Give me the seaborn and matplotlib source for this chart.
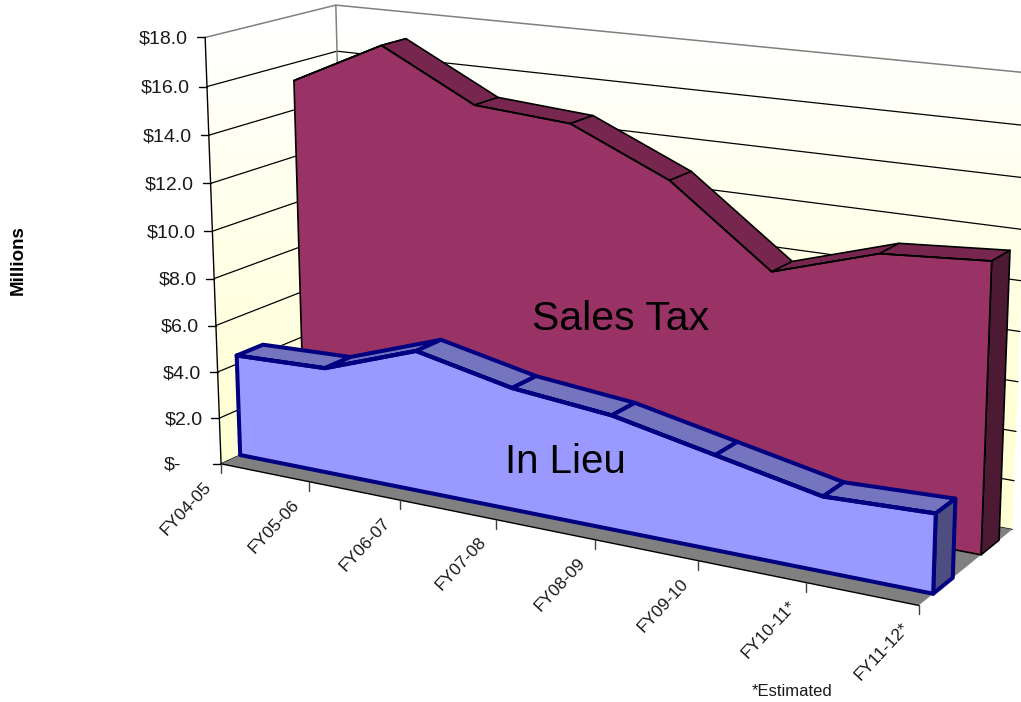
import matplotlib
matplotlib.use("Agg")
import matplotlib.pyplot as plt
import numpy as np
import pandas as pd
import seaborn as sns
from matplotlib.colors import LinearSegmentedColormap
from matplotlib.patches import Polygon

categories = ["FY04-05", "FY05-06", "FY06-07", "FY07-08", "FY08-09", "FY09-10", "FY10-11*", "FY11-12*"]
sales_tax = [15.25, 17.15, 15.1, 14.8, 13.0, 9.9, 11.2, 11.5]
in_lieu = [4.37, 4.5, 5.9, 5.05, 4.65, 3.8, 2.95, 3.1]
tick_values = [0, 2, 4, 6, 8, 10, 12, 14, 16, 18]
tick_labels = ["$-", "$2.0", "$4.0", "$6.0", "$8.0", "$10.0", "$12.0", "$14.0", "$16.0", "$18.0"]

YMAX = 18.0
# box corners (category fraction, depth, value fraction) and where they land on screen
BOX = [
    ((0, 0, 0), (221, 464)),
    ((1, 0, 0), (919, 605)),
    ((1, 1, 0), (1012, 530)),
    ((0, 1, 0), (346, 406)),
    ((0, 0, 1), (205, 37.7)),
    ((0, 1, 1), (336, 5)),
    ((1, 1, 1), (1030, 73)),
]
IN_LIEU_DEPTH = (0.145, 0.347)
SALES_DEPTH = (0.65, 0.85)


def fit_camera():
    rows = []
    for (x, z, v), (sx, sy) in BOX:
        sx, sy = sx / 1000, sy / 1000
        rows.append([x, z, v, 1, 0, 0, 0, 0, -sx * x, -sx * z, -sx * v, -sx])
        rows.append([0, 0, 0, 0, x, z, v, 1, -sy * x, -sy * z, -sy * v, -sy])
    return np.linalg.svd(np.array(rows))[2][-1].reshape(3, 4)


CAM = fit_camera()


def project(cat, depth, value):
    # cat is category index, value in dollars
    p = CAM @ np.array([cat / (len(categories) - 1), depth, value / YMAX, 1.0])
    return p[0] / p[2] * 1000, p[1] / p[2] * 1000


def wall(ax, corners):
    ramp = LinearSegmentedColormap.from_list(
        "wall", [(0, "#ffffff"), (0.05, "#ffffff"), (0.75, "#ffffd6"), (1, "#ffffd6")]
    )
    grad = np.linspace(0, 1, 256).reshape(-1, 1)
    img = ax.imshow(grad, cmap=ramp, extent=(150, 1100, 560, 0), aspect="auto", zorder=1)
    patch = Polygon(corners, closed=True, transform=ax.transData, fc="none", ec="none", zorder=0.5)
    ax.add_patch(patch)
    img.set_clip_path(patch)


def draw_series(ax, values, depth, front, top, side, edge, lw, z):
    near, far = depth
    last = len(values) - 1
    for i in range(last):
        quad = [project(i, near, values[i]), project(i + 1, near, values[i + 1]),
                project(i + 1, far, values[i + 1]), project(i, far, values[i])]
        ax.add_patch(Polygon(quad, closed=True, fc=top, ec=edge, lw=lw, joinstyle="round", zorder=z))
    quad = [project(last, near, values[last]), project(last, far, values[last]),
            project(last, far, 0), project(last, near, 0)]
    ax.add_patch(Polygon(quad, closed=True, fc=side, ec=edge, lw=lw, joinstyle="round", zorder=z))
    outline = [project(i, near, values[i]) for i in range(last + 1)]
    base = [project(last, near, 0), project(0, near, 0)]
    ax.add_patch(Polygon(outline + base, closed=True, fc=front, ec=edge, lw=lw, joinstyle="round", zorder=z + 0.1))
    df = pd.DataFrame(outline, columns=["px", "py"])
    sns.lineplot(data=df, x="px", y="py", sort=False, estimator=None, color=edge, linewidth=lw, ax=ax, zorder=z + 0.2)


def main():
    sns.set_theme(style="white")
    plt.rcParams["font.family"] = ["Liberation Sans", "DejaVu Sans"]
    fig = plt.figure(figsize=(10.21, 7.02), dpi=100)
    ax = fig.add_axes([0, 0, 1, 1])

    n = len(categories) - 1
    wall(ax, [project(0, 0, 0), project(0, 1, 0), project(0, 1, YMAX), project(0, 0, YMAX)])
    wall(ax, [project(0, 1, 0), project(n, 1, 0), project(n, 1, YMAX), project(0, 1, YMAX)])

    # gridlines on both walls
    for v in tick_values:
        pts = [project(0, 0, v), project(0, 1, v), project(n, 1, v)]
        color = "#808080" if v == YMAX else "black"
        ax.plot(*zip(*pts), color=color, lw=1.1 if v == YMAX else 0.9, zorder=2)
    ax.plot(*zip(project(0, 1, 0), project(0, 1, YMAX)), color="#808080", lw=1.1, zorder=2)

    floor = [project(0, 0, 0), project(n, 0, 0), project(n, 1, 0), project(0, 1, 0)]
    ax.add_patch(Polygon(floor, closed=True, fc="#808080", ec="none", zorder=3))
    ax.plot(*zip(project(0, 0, 0), project(n, 0, 0)), color="black", lw=1.0, zorder=3.5)
    ax.plot(*zip(project(0, 0, 0), project(0, 0, YMAX)), color="black", lw=1.0, zorder=3.5)

    draw_series(ax, sales_tax, SALES_DEPTH, "#993366", "#77264f", "#4d1a33", "black", 1.2, 4)
    draw_series(ax, in_lieu, IN_LIEU_DEPTH, "#9999ff", "#7575bf", "#4d4d80", "#000080", 2.9, 5)

    for v, label in zip(tick_values, tick_labels):
        x, y = project(0, 0, v)
        ax.plot([x - 8, x], [y, y], color="black", lw=1.0, zorder=3.5)
        pad = 40 if label == "$-" else 17
        ax.text(x - pad, y + 1.5, label, ha="right", va="center", fontsize=14, color="#1a1a1a")

    for i, label in enumerate(categories):
        x, y = project(i, 0, 0)
        ax.plot([x, x], [y, y + 9], color="#404040", lw=1.0, zorder=3.5)
        ax.text(x - 18, y + 15, label, rotation=47, ha="right", va="top", rotation_mode="anchor",
                fontsize=12.5, color="#1a1a1a")

    ax.text(621, 319, "Sales Tax", ha="center", va="center", fontsize=29.5, color="black", zorder=6)
    ax.text(565, 462, "In Lieu", ha="center", va="center", fontsize=29, color="black", zorder=6)
    ax.text(18, 260, "Millions", rotation=90, ha="center", va="center", fontsize=13.5, fontweight="bold", color="black")
    ax.text(792, 691, "*Estimated", ha="center", va="center", fontsize=12, color="#1a1a1a")

    ax.set_xlim(0, 1021)
    ax.set_ylim(702, 0)
    ax.axis("off")
    fig.savefig("out.png", dpi=100)


if __name__ == "__main__":
    main()
